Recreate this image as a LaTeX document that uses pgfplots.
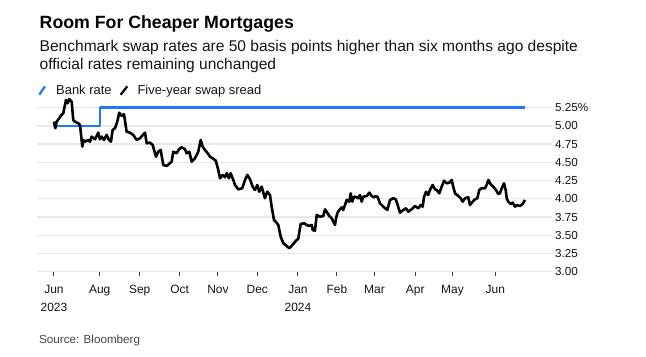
\documentclass[border=0pt]{standalone}
\usepackage{fontspec}
\setmainfont{Liberation Sans}
\usepackage{pgfplots}
\pgfplotsset{compat=1.18}
\usepackage{pgfplotstable}
\definecolor{bankblue}{RGB}{30,120,250}
\definecolor{gridc}{RGB}{232,232,232}
\definecolor{axisc}{RGB}{60,60,60}
\definecolor{txtc}{RGB}{20,20,20}
\definecolor{srcc}{RGB}{70,70,70}

\pgfplotstableread{
d v
0 5.058
1.0 4.967
2.1 5.058
5.9 5.150
7.2 5.173
9.3 5.355
10.6 5.310
11.8 5.365
13.7 5.332
14.9 5.081
16.2 5.058
18.8 5.036
20.1 5.012
21.9 4.715
22.6 4.807
23.9 4.783
26.5 4.807
27.8 4.783
29.1 4.852
31.7 4.816
34.2 4.907
35.5 4.816
36.8 4.852
38.6 4.807
40.7 4.875
42.5 4.807
44.0 4.783
45.3 4.944
47.1 4.967
48.9 5.058
50.4 5.181
52.3 5.136
54.1 5.159
56.1 4.920
58.7 4.907
61.2 4.875
63.9 4.807
66.4 4.830
70.3 4.907
71.6 4.761
74.1 4.770
76.2 4.738
78.8 4.577
80.5 4.646
82.4 4.669
84.4 4.464
87.0 4.450
90.9 4.509
92.1 4.646
94.7 4.624
96.5 4.679
98.6 4.706
101.2 4.679
102.5 4.624
104.5 4.646
106.3 4.509
108.9 4.556
111.4 4.646
113.3 4.807
114.8 4.715
116.6 4.669
118.7 4.624
120.5 4.577
122.5 4.556
124.9 4.523
126.9 4.395
128.2 4.281
130.3 4.326
132.0 4.295
133.4 4.350
135.1 4.281
136.4 4.350
138.5 4.258
139.8 4.189
142.3 4.130
145.4 4.144
147.5 4.258
149.3 4.326
151.4 4.267
153.4 4.166
155.2 4.121
157.0 4.189
158.5 4.097
160.4 4.166
162.9 4.007
164.7 4.097
166.8 4.052
168.1 3.892
169.9 3.709
171.9 3.672
173.2 3.641
175.1 3.480
177.1 3.390
179.7 3.353
181.7 3.321
184.8 3.380
187.4 3.435
188.6 3.449
190.5 3.654
193.1 3.664
195.1 3.641
197.1 3.627
199.0 3.641
199.8 3.572
201.5 3.562
202.9 3.778
205.4 3.754
208.0 3.764
209.3 3.856
211.0 3.809
212.6 3.764
214.4 3.733
215.7 3.686
217.0 3.641
217.8 3.733
218.8 3.801
220.3 3.846
222.2 3.883
223.4 3.846
224.7 3.915
226.0 3.984
228.0 3.960
229.1 4.075
230.3 3.960
231.7 4.029
233.7 4.021
235.0 4.007
236.3 4.052
237.6 3.960
238.8 4.029
241.5 4.038
243.5 4.084
245.3 4.038
247.1 4.021
248.6 4.038
250.0 4.021
251.7 3.938
254.3 3.892
257.4 3.846
259.5 3.984
262.0 4.007
263.9 3.993
265.4 3.915
267.2 3.809
269.7 3.846
271.8 3.870
273.6 3.823
276.2 3.856
278.8 3.901
281.3 3.870
283.2 3.915
284.7 3.892
285.7 4.021
287.3 4.097
289.0 4.052
290.3 4.121
292.4 4.189
294.2 4.130
295.5 4.121
297.5 4.075
299.4 4.166
301.2 4.248
303.2 4.213
305.3 4.221
307.1 4.258
308.3 4.166
309.7 4.075
312.2 4.038
314.1 4.007
315.6 3.960
317.4 4.007
319.9 4.021
321.2 3.915
323.3 3.960
325.1 3.993
326.9 4.007
328.4 4.121
330.3 4.144
332.8 4.144
334.1 4.189
335.4 4.258
337.2 4.199
339.2 4.166
341.3 4.121
343.1 4.066
344.4 4.075
345.7 4.144
347.5 4.213
348.8 4.121
349.6 4.007
350.8 3.960
352.7 3.929
354.2 3.947
356.0 3.892
357.3 3.915
359.8 3.901
361.9 3.929
363.7 3.984
}\swaptable

\pgfplotstableread{
d v
0 5.00
35.5 5.00
35.5 5.25
363.7 5.25
}\banktable

\begin{document}
\begin{tikzpicture}
\useasboundingbox (-37bp,-85.3bp) rectangle (609bp,271.7bp);
% titles
\node[anchor=base west, inner sep=0pt, text=black, font=\fontsize{17.8}{20}\selectfont\bfseries] at (2.5bp,242.7bp) {Room For Cheaper Mortgages};
\node[anchor=base west, inner sep=0pt, text=txtc, font=\fontsize{15.6}{18}\selectfont] at (2.5bp,220bp) {Benchmark swap rates are 50 basis points higher than six months ago despite};
\node[anchor=base west, inner sep=0pt, text=txtc, font=\fontsize{15.6}{18}\selectfont] at (2.5bp,201.7bp) {official rates remaining unchanged};
% legend
\draw[bankblue, line width=2.2bp] (2.3bp,177bp) -- (8bp,185.4bp);
\node[anchor=base west, inner sep=0pt, text=txtc, font=\fontsize{13}{15}\selectfont] at (19bp,177bp) {Bank rate};
\draw[black, line width=2.2bp] (83.7bp,177bp) -- (90.3bp,185.4bp);
\node[anchor=base west, inner sep=0pt, text=txtc, font=\fontsize{13}{15}\selectfont] at (100.3bp,177bp) {Five-year swap sread};
% source
\node[anchor=base west, inner sep=0pt, text=srcc, font=\fontsize{11.7}{14}\selectfont] at (2bp,-71.6bp) {Source: Bloomberg};

\begin{axis}[
  at={(0,0)}, anchor=south west,
  scale only axis, width=503bp, height=175bp,
  xmin=-13.1, xmax=375.3, ymin=3, ymax=5.4,
  axis x line*=bottom, axis y line*=right,
  y axis line style={draw=none},
  x axis line style={draw=axisc, line width=1.2bp},
  xtick={0,35.3,66.2,97.1,126.6,157,188.4,218.5,247.5,279,307.7,340.8},
  xticklabels={Jun\\2023,Aug,Sep,Oct,Nov,Dec,Jan\\2024,Feb,Mar,Apr,May,Jun},
  xtick align=outside, major tick length=4bp,
  xtick style={draw=axisc, line width=1bp},
  xticklabel style={font=\fontsize{12}{18}\selectfont, align=center, inner sep=0pt, anchor=north, text=txtc, yshift=-9bp},
  ytick={3,3.25,3.5,3.75,4,4.25,4.5,4.75,5,5.25},
  yticklabels={3.00,3.25,3.50,3.75,4.00,4.25,4.50,4.75,5.00,5.25\%},
  ytick style={draw=none},
  yticklabel style={font=\fontsize{11.7}{14}\selectfont, anchor=west, inner sep=0pt, text=txtc, xshift=15bp},
  clip=false,
]
\pgfplotsinvokeforeach{3,3.25,3.5,3.75,4,4.25,4.5,4.75,5,5.25}{
  \draw[gridc, line width=1.3bp] (axis cs:-13.1,#1) -- (axis cs:384.6,#1);
}
\addplot[bankblue, line width=2.6bp, line join=round] table[x=d,y=v] {\banktable};
\addplot[black, line width=2.6bp, line join=round] table[x=d,y=v] {\swaptable};
\end{axis}
\end{tikzpicture}
\end{document}
